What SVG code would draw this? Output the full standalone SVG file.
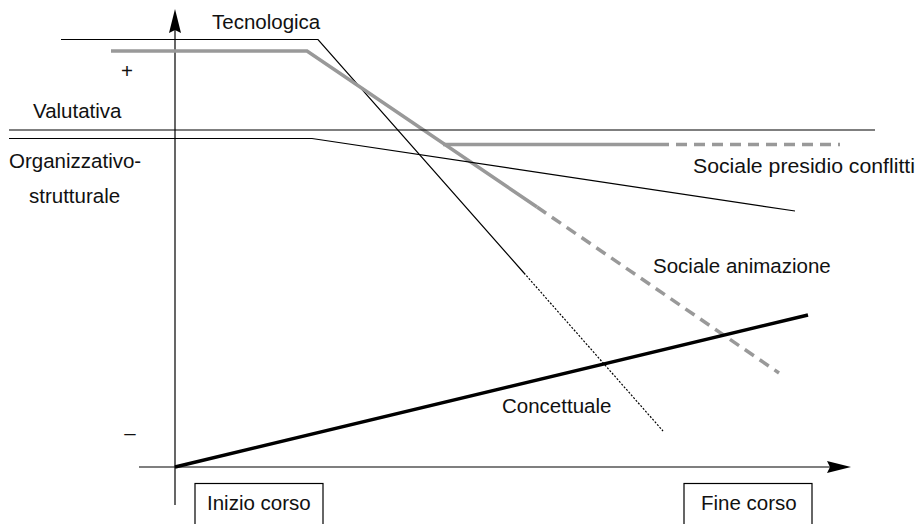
<svg xmlns="http://www.w3.org/2000/svg" width="918" height="524" viewBox="0 0 918 524">
<style>
text{font-family:"Liberation Sans",Arial,sans-serif;font-size:20.5px;fill:#111}
.thin{fill:none;stroke:#000;stroke-width:1.2}
.gray{fill:none;stroke:#999;stroke-width:3.5}
.gdash{fill:none;stroke:#999;stroke-width:3.5;stroke-dasharray:11 7}
.dot{fill:none;stroke:#000;stroke-width:1.2;stroke-dasharray:2 1.6}
.thick{fill:none;stroke:#000;stroke-width:3.5}
.box{fill:#fff;stroke:#000;stroke-width:1.2}
</style>
<g id="axes">
<line class="thin" x1="175" y1="30" x2="175" y2="505"/>
<polygon points="175,9 181,33 175,30 169,33" fill="#000"/>
<line class="thin" x1="139" y1="467" x2="832" y2="467"/>
<polygon points="851,467 827,473 830,467 827,461" fill="#000"/>
<text x="127" y="78" text-anchor="middle">+</text>
<text x="130" y="440" text-anchor="middle">–</text>
</g>
<g id="connectors">
<polyline class="thin" points="61,39.5 318,39.5 524,273"/>
<line class="dot" x1="524" y1="273" x2="663" y2="431"/>
<polyline class="gray" points="111,51 307,51 537,207"/>
<line class="gdash" x1="537" y1="207" x2="779" y2="373"/>
<line class="gray" x1="443" y1="144.5" x2="658" y2="144.5"/>
<line class="gdash" x1="658" y1="144.5" x2="840" y2="144.5"/>
<line class="thin" x1="9" y1="130" x2="875" y2="130"/>
<polyline class="thin" points="9,138.5 312,138.5 795,211"/>
<line class="thick" x1="175" y1="467" x2="808" y2="315"/>
</g>
<g id="tecnologica"><text x="212" y="29">Tecnologica</text></g>
<g id="valutativa"><text x="33" y="118">Valutativa</text></g>
<g id="organizzativo"><text x="9" y="168">Organizzativo-</text><text x="29" y="203">strutturale</text></g>
<g id="presidio"><text x="693" y="173" textLength="222" lengthAdjust="spacingAndGlyphs">Sociale presidio conflitti</text></g>
<g id="animazione"><text x="653" y="273">Sociale animazione</text></g>
<g id="concettuale"><text x="502" y="413">Concettuale</text></g>
<g id="inizio"><rect class="box" x="195" y="483.5" width="128" height="50"/><text x="207" y="510">Inizio corso</text></g>
<g id="fine"><rect class="box" x="684" y="483.5" width="128" height="50"/><text x="701" y="510">Fine corso</text></g>
</svg>
